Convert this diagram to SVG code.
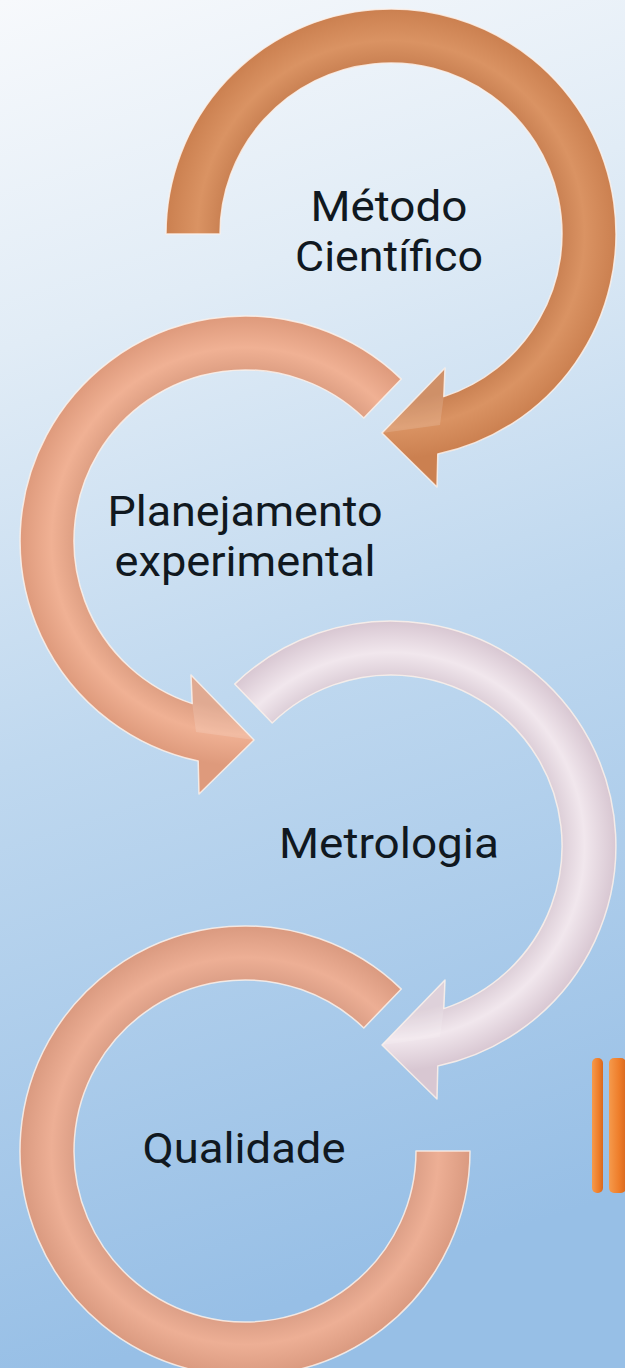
<svg xmlns="http://www.w3.org/2000/svg" width="625" height="1368" viewBox="0 0 625 1368">
  <defs>
    <linearGradient id="bg" x1="0" y1="0" x2="0.15" y2="1">
      <stop offset="0" stop-color="#F7F9FC"/>
      <stop offset="0.25" stop-color="#E1ECF6"/>
      <stop offset="0.55" stop-color="#BFD8EF"/>
      <stop offset="1" stop-color="#97BFE6"/>
    </linearGradient>
    <radialGradient id="g1" gradientUnits="userSpaceOnUse" cx="391" cy="234" r="225">
      <stop offset="0.74" stop-color="#C77E50"/>
      <stop offset="0.86" stop-color="#DA9363"/>
      <stop offset="1" stop-color="#CB8050"/>
    </radialGradient>
    <radialGradient id="g2" gradientUnits="userSpaceOnUse" cx="245" cy="541" r="225">
      <stop offset="0.74" stop-color="#DB9C80"/>
      <stop offset="0.86" stop-color="#F0B194"/>
      <stop offset="1" stop-color="#DE9A7C"/>
    </radialGradient>
    <radialGradient id="g3" gradientUnits="userSpaceOnUse" cx="391" cy="846" r="225">
      <stop offset="0.74" stop-color="#D9CAD4"/>
      <stop offset="0.86" stop-color="#F1E7ED"/>
      <stop offset="1" stop-color="#D8C7D2"/>
    </radialGradient>
    <radialGradient id="g4" gradientUnits="userSpaceOnUse" cx="245" cy="1151" r="225">
      <stop offset="0.74" stop-color="#D99C84"/>
      <stop offset="0.86" stop-color="#EDAF95"/>
      <stop offset="1" stop-color="#DA9A80"/>
    </radialGradient>
    <linearGradient id="bar" x1="0" y1="0" x2="1" y2="0">
      <stop offset="0" stop-color="#F59A4C"/>
      <stop offset="0.6" stop-color="#EE7D2A"/>
      <stop offset="1" stop-color="#D9691E"/>
    </linearGradient>
  </defs>
  <style>
    .arc { stroke: #FBF1EA; stroke-width: 1.5; stroke-opacity: 0.85; stroke-linejoin: round; }
    .facet { fill: #FFFFFF; fill-opacity: 0.14; }
    .label { font-family: Roboto, "Open Sans", "DejaVu Sans", sans-serif; font-size: 42px; fill: #101820; text-anchor: middle; }
  </style>

  <rect x="0" y="0" width="625" height="1368" fill="url(#bg)"/>

  <g id="node-metodo">
    <path class="arc" fill="url(#g1)" d="M166,234 A225,225 0 1 1 437.8,454.1 L437,487 L382,433 L445,368 L443.8,396.6 A171,171 0 1 0 220,234 Z"/>
    <polygon class="facet" points="382,433 445,368 443.8,396.6 440,425"/>
    <text class="label" x="389" y="221" textLength="157" lengthAdjust="spacingAndGlyphs">Método</text>
    <text class="label" x="389" y="271" textLength="188" lengthAdjust="spacingAndGlyphs">Científico</text>
  </g>

  <g id="node-planejamento">
    <path class="arc" fill="url(#g2)" d="M401.3,379.1 A225,225 0 1 0 198.2,761.1 L199,794 L254,740 L191,675 L192.2,703.6 A171,171 0 1 1 363.8,418 Z"/>
    <polygon class="facet" points="254,740 191,675 192.2,703.6 196,732"/>
    <text class="label" x="245" y="526" textLength="275" lengthAdjust="spacingAndGlyphs">Planejamento</text>
    <text class="label" x="245" y="576" textLength="261" lengthAdjust="spacingAndGlyphs">experimental</text>
  </g>

  <g id="node-metrologia">
    <path class="arc" fill="url(#g3)" d="M234.7,684.1 A225,225 0 1 1 437.8,1066.1 L437,1099 L382,1045 L445,980 L443.8,1008.6 A171,171 0 1 0 272.2,723 Z"/>
    <polygon class="facet" points="382,1045 445,980 443.8,1008.6 440,1037"/>
    <text class="label" x="389" y="858" textLength="220" lengthAdjust="spacingAndGlyphs">Metrologia</text>
  </g>

  <g id="node-qualidade">
    <path class="arc" fill="url(#g4)" d="M401.3,989.1 A225,225 0 1 0 470,1151 L416,1151 A171,171 0 1 1 363.8,1028 Z"/>
    <text class="label" x="244" y="1163" textLength="203" lengthAdjust="spacingAndGlyphs">Qualidade</text>
  </g>

  <g id="connectors"></g>

  <g id="decoration">
    <rect x="592" y="1058" width="11" height="135" rx="5" fill="url(#bar)"/>
    <rect x="609" y="1058" width="17" height="135" rx="5" fill="url(#bar)"/>
  </g>
</svg>
